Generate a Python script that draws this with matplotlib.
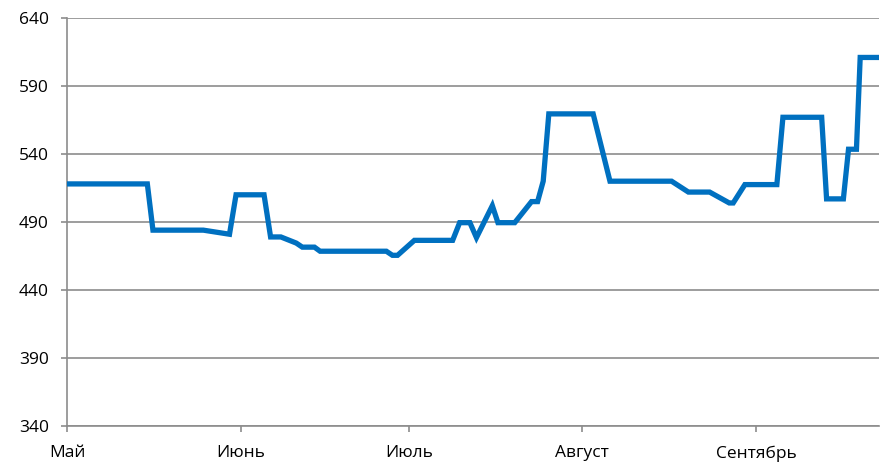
import matplotlib.pyplot as plt
import numpy as np

# daily price points
dates = np.array([
    "2013-05-01T00", "2013-05-15T08", "2013-05-16T08", "2013-05-25T08", "2013-05-30T00", "2013-05-31T04",
    "2013-06-05T04", "2013-06-06T08", "2013-06-08T04", "2013-06-10T22", "2013-06-12T00", "2013-06-14T04",
    "2013-06-15T04", "2013-06-27T00", "2013-06-28T02", "2013-06-29T00", "2013-07-02T00", "2013-07-08T20",
    "2013-07-10T02", "2013-07-11T22", "2013-07-13T02", "2013-07-15T22", "2013-07-16T22", "2013-07-19T22",
    "2013-07-22T22", "2013-07-24T00", "2013-07-25T00", "2013-07-26T00", "2013-08-02T22", "2013-08-05T22",
    "2013-08-16T22", "2013-08-19T22", "2013-08-23T17", "2013-08-27T05", "2013-08-27T22", "2013-08-30T00",
    "2013-09-04T17", "2013-09-05T19", "2013-09-12T17", "2013-09-13T14", "2013-09-16T14", "2013-09-17T12",
    "2013-09-18T22", "2013-09-19T14", "2013-09-23T00",
], dtype="datetime64[h]")
values = [
    518, 518, 484, 484, 481, 510,
    510, 479, 479, 474.5, 471.5, 471.5,
    468.5, 468.5, 465.5, 465.5, 476.5, 476.5,
    489.5, 489.5, 478.5, 502, 489.5, 489.5,
    505, 505, 520, 569.5, 569.5, 520,
    520, 512, 512, 504, 504, 517.5,
    517.5, 567, 567, 507, 507, 543.5,
    543.5, 611, 611,
]
month_ticks = np.array(["2013-05-01", "2013-06-01", "2013-07-01", "2013-08-01", "2013-09-01"],
                       dtype="datetime64[h]")
month_labels = ["Май", "Июнь", "Июль", "Август", "Сентябрь"]
y_ticks = [340, 390, 440, 490, 540, 590, 640]

plt.rcParams['font.family'] = ['Open Sans', 'DejaVu Sans']
grid_col = "#8c8c8c"

fig = plt.figure(figsize=(8.81, 4.62), dpi=100, facecolor='white')
ax = fig.add_axes([0.0761, 0.078, 0.922, 0.883])

ax.plot(dates.astype(object), values, color="#0070C0", lw=3.8,
        solid_joinstyle='miter', zorder=3)

ax.set_ylim(340, 640)
ax.set_yticks(y_ticks)
ax.set_xlim(month_ticks[0].astype(object), dates[-1].astype(object))
ax.set_xticks([d.astype(object) for d in month_ticks])
ax.set_xticklabels(month_labels)

ax.yaxis.grid(True, color=grid_col, lw=1.2)
ax.set_axisbelow(True)
for s in ["top", "right"]:
    ax.spines[s].set_visible(False)
for s in ["left", "bottom"]:
    ax.spines[s].set_color(grid_col)
    ax.spines[s].set_linewidth(1.2)

ax.tick_params(axis='both', colors=grid_col, labelcolor='black', labelsize=12.5,
               length=4, width=1.2, direction='out')
ax.tick_params(axis='x', pad=10)
ax.tick_params(axis='y', pad=9)

plt.savefig("out.png", dpi=100)
